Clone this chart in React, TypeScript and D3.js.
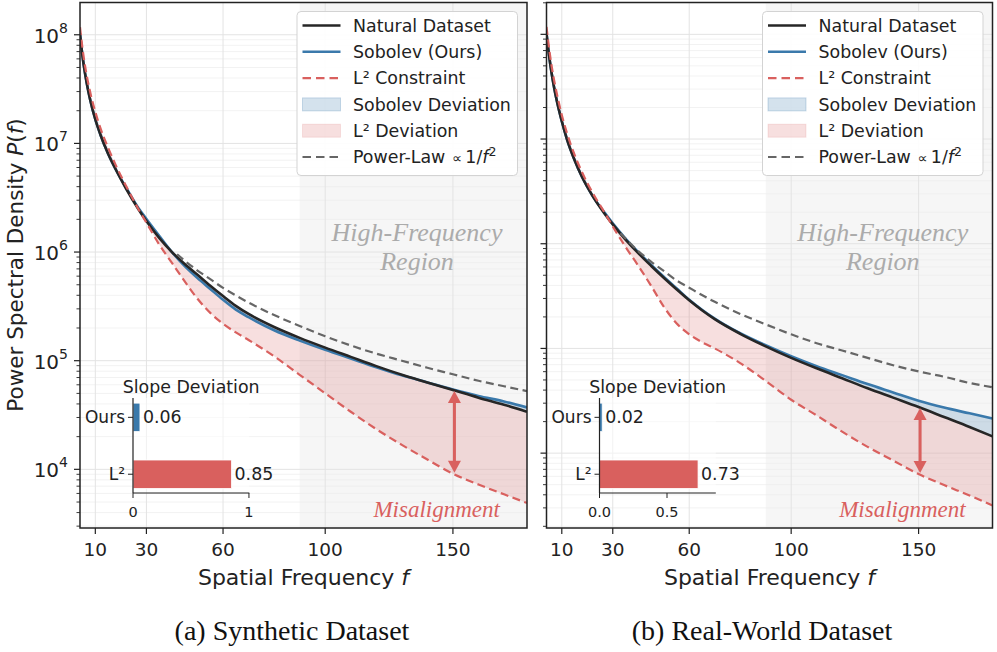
import React from "react";
import * as d3 from "d3";

// ---------------- data (log10 of P(f)) ----------------
const freqs = [4, 5, 6, 7, 8, 10, 12, 15, 18, 22, 27, 30, 35, 40, 45, 50, 55, 60, 65, 70, 80, 90, 100, 110, 120, 130, 140, 150, 160, 170, 179];

const synNatural = [8.01, 7.8, 7.64, 7.51, 7.4, 7.22, 7.08, 6.905, 6.76, 6.585, 6.39, 6.285, 6.13, 6.0, 5.89, 5.79, 5.69, 5.595, 5.505, 5.43, 5.31, 5.21, 5.12, 5.035, 4.95, 4.87, 4.8, 4.73, 4.66, 4.595, 4.53];
const synSobolev = [8.01, 7.8, 7.64, 7.51, 7.4, 7.22, 7.08, 6.905, 6.76, 6.595, 6.4, 6.305, 6.15, 6.0, 5.87, 5.76, 5.66, 5.56, 5.47, 5.4, 5.28, 5.185, 5.1, 5.02, 4.94, 4.865, 4.8, 4.735, 4.675, 4.625, 4.57];
const synL2 = [8.07, 7.87, 7.71, 7.58, 7.47, 7.29, 7.14, 6.96, 6.8, 6.61, 6.39, 6.27, 6.07, 5.9, 5.73, 5.57, 5.44, 5.34, 5.26, 5.19, 5.04, 4.87, 4.7, 4.53, 4.37, 4.225, 4.09, 3.96, 3.86, 3.77, 3.69];
const synPowerFreqs = [42, 45, 50, 55, 60, 65, 70, 80, 90, 100, 110, 120, 130, 140, 150, 160, 170, 179];
const synPowerLaw = [5.98, 5.92, 5.83, 5.75, 5.67, 5.6, 5.535, 5.42, 5.32, 5.225, 5.14, 5.065, 5.0, 4.935, 4.875, 4.815, 4.765, 4.72];

const realNatural = [8.01, 7.8, 7.63, 7.49, 7.37, 7.17, 7.0, 6.8, 6.635, 6.46, 6.28, 6.185, 6.04, 5.91, 5.79, 5.675, 5.565, 5.46, 5.365, 5.28, 5.14, 5.02, 4.91, 4.81, 4.715, 4.62, 4.53, 4.44, 4.345, 4.25, 4.16];
const realSobolev = [8.01, 7.8, 7.63, 7.49, 7.37, 7.17, 7.0, 6.8, 6.635, 6.46, 6.29, 6.195, 6.05, 5.92, 5.8, 5.685, 5.575, 5.465, 5.37, 5.285, 5.145, 5.03, 4.925, 4.83, 4.745, 4.66, 4.58, 4.5, 4.435, 4.38, 4.33];
const realL2 = [8.07, 7.87, 7.7, 7.56, 7.44, 7.23, 7.06, 6.85, 6.68, 6.49, 6.29, 6.165, 5.97, 5.79, 5.6, 5.4, 5.24, 5.135, 5.06, 5.0, 4.86, 4.69, 4.51, 4.36, 4.205, 4.06, 3.93, 3.8, 3.695, 3.595, 3.5];
const realPowerFreqs = [33, 35, 40, 45, 50, 55, 60, 65, 70, 80, 90, 100, 110, 120, 130, 140, 150, 160, 170, 179];
const realPowerLaw = [6.1, 6.05, 5.93, 5.83, 5.74, 5.65, 5.58, 5.51, 5.445, 5.33, 5.23, 5.135, 5.05, 4.98, 4.91, 4.84, 4.78, 4.73, 4.67, 4.63];

const slopeCategories = ["Ours", "L²"];
const synSlope = [0.06, 0.85];
const realSlope = [0.02, 0.73];
const synInsetTicks = [0, 1];
const realInsetTicks = [0, 0.5];

const xTicks = [10, 30, 60, 100, 150];
const yDecades = [4, 5, 6, 7, 8];
const highFreqStart = 90;
const arrowFreq = 150;

const legendLabels = ["Natural Dataset", "Sobolev (Ours)", "L² Constraint", "Sobolev Deviation", "L² Deviation", "Power-Law"];
const captions = ["(a) Synthetic Dataset", "(b) Real-World Dataset"];

// ---------------- styles ----------------
const C_NAT = "#262626";
const C_SOB = "#3a79ab";
const C_L2 = "#d9605e";
const C_PL = "#666666";
const SANS = "DejaVu Sans, sans-serif";
const SERIF = "Liberation Serif, Times New Roman, serif";
const TOP = 2.5;
const BOTTOM = 528;

const panels = [
  {
    id: "a", x0: 80, x1: 527, yLo: 3.46, yHi: 8.297, showYLabels: true,
    natural: synNatural, sobolev: synSobolev, l2: synL2, plF: synPowerFreqs, pl: synPowerLaw,
    slope: synSlope, insetTicks: synInsetTicks, insetFmt: "d", caption: captions[0], captionX: 292,
  },
  {
    id: "b", x0: 546.5, x1: 992.5, yLo: 3.285, yHi: 8.304, showYLabels: false,
    natural: realNatural, sobolev: realSobolev, l2: realL2, plF: realPowerFreqs, pl: realPowerLaw,
    slope: realSlope, insetTicks: realInsetTicks, insetFmt: ".1f", caption: captions[1], captionX: 762,
  },
];

function Legend({ x, y }: { x: number; y: number }) {
  const w = 220.5, h = 164, step = 26.3, y0 = y + 14;
  const hx0 = x + 5.5, hx1 = x + 43.5, tx = x + 56;
  const fs = 17.4;
  return (
    <g>
      <rect x={x} y={y} width={w} height={h} rx={4} fill="#fff" fillOpacity={0.92} stroke="#d3d3d3" strokeWidth={1} />
      {legendLabels.map((lab, i) => {
        const cy = y0 + i * step;
        let handle: any = null;
        if (i === 0) handle = <line x1={hx0} x2={hx1} y1={cy} y2={cy} stroke={C_NAT} strokeWidth={2.6} />;
        if (i === 1) handle = <line x1={hx0} x2={hx1} y1={cy} y2={cy} stroke={C_SOB} strokeWidth={2.6} />;
        if (i === 2) handle = <line x1={hx0} x2={hx1} y1={cy} y2={cy} stroke={C_L2} strokeWidth={2.2} strokeDasharray="8.5,5" />;
        if (i === 3) handle = <rect x={hx0} y={cy - 6.5} width={hx1 - hx0} height={13} fill={C_SOB} fillOpacity={0.22} stroke={C_SOB} strokeOpacity={0.25} />;
        if (i === 4) handle = <rect x={hx0} y={cy - 6.5} width={hx1 - hx0} height={13} fill={C_L2} fillOpacity={0.2} stroke={C_L2} strokeOpacity={0.15} />;
        if (i === 5) handle = <line x1={hx0} x2={hx1} y1={cy} y2={cy} stroke={C_PL} strokeWidth={2.2} strokeDasharray="8.5,5" />;
        return (
          <g key={i}>
            {handle}
            {i < 5 ? (
              <text x={tx} y={cy + 6.2} fontSize={fs} fontFamily={SANS} fill="#222">{lab}</text>
            ) : (
              <text x={tx} y={cy + 6.2} fontSize={fs} fontFamily={SANS} fill="#222">
                {lab}
                <tspan dx={7} fontSize={14}>∝</tspan>
                <tspan dx={3}>1/</tspan>
                <tspan fontStyle="italic">f</tspan>
                <tspan fontSize={12.5} dy={-7}>2</tspan>
              </text>
            )}
          </g>
        );
      })}
    </g>
  );
}

function Panel({ cfg }: { cfg: any }) {
  const x = d3.scaleLinear().domain([4, 179]).range([cfg.x0, cfg.x1]);
  const y = d3.scaleLog().domain([10 ** cfg.yLo, 10 ** cfg.yHi]).range([BOTTOM, TOP]);
  const P = (v: number) => y(10 ** v);
  const line = d3.line<[number, number]>().curve(d3.curveMonotoneX);
  const pts = (fs: number[], vs: number[]) => fs.map((f, i) => [x(f), P(vs[i])] as [number, number]);
  const between = (a: number[], b: number[]) =>
    d3.area<number>()
      .x((f) => x(f))
      .y0((_, i) => P(a[i]))
      .y1((_, i) => P(b[i]))
      .curve(d3.curveMonotoneX)(freqs) as string;

  const clipId = "clip-" + cfg.id;
  const minor: number[] = [];
  for (let k = 3; k <= 8; k++) for (let m = 2; m <= 9; m++) {
    const v = Math.log10(m) + k;
    if (v > cfg.yLo && v < cfg.yHi) minor.push(v);
  }
  const cx = (cfg.x0 + cfg.x1) / 2;
  const W = cfg.x1 - cfg.x0;

  // arrow
  const ai = freqs.indexOf(arrowFreq);
  const ax = x(arrowFreq) + 1.5;
  const aTop = P(cfg.natural[ai]) + 1;
  const aBot = P(cfg.l2[ai]) - 1;
  const hl = 12, hw = 6.5;

  // inset
  const ix0 = cfg.x0 + 53, iw = 116.3, iy0 = 398, iy1 = 493;
  const ixs = d3.scaleLinear().domain([0, d3.max(cfg.slope as number[])! * 1.18]).range([ix0, ix0 + iw]);
  const iys = d3.scaleLinear().domain([-0.34, 1.33]).range([iy0, iy1]);
  const barH = iys(0.25) - iys(-0.25);
  const fmt = d3.format(cfg.insetFmt);
  const hfx = x(highFreqStart);
  const textX = cfg.x0 + 0.754 * W;
  const misX = cfg.x0 + 0.798 * W;

  return (
    <g>
      <defs>
        <clipPath id={clipId}>
          <rect x={cfg.x0} y={TOP} width={W} height={BOTTOM - TOP} />
        </clipPath>
      </defs>
      <rect x={hfx} y={TOP} width={cfg.x1 - hfx} height={BOTTOM - TOP} fill="#000" fillOpacity={0.037} />
      <g clipPath={`url(#${clipId})`}>
        {minor.map((v) => (
          <line key={"mg" + v} x1={cfg.x0} x2={cfg.x1} y1={P(v)} y2={P(v)} stroke="#ececec" strokeWidth={0.7} />
        ))}
        {yDecades.map((d) => (
          <line key={"Mg" + d} x1={cfg.x0} x2={cfg.x1} y1={P(d)} y2={P(d)} stroke="#e3e3e3" strokeWidth={1} />
        ))}
        {xTicks.map((t) => (
          <line key={"vg" + t} x1={x(t)} x2={x(t)} y1={TOP} y2={BOTTOM} stroke="#e3e3e3" strokeWidth={1} />
        ))}
        <path d={between(cfg.natural, cfg.l2)} fill={C_L2} fillOpacity={0.2} />
        <path d={between(cfg.natural, cfg.sobolev)} fill={C_SOB} fillOpacity={0.22} />
        <path d={line(pts(freqs, cfg.sobolev))!} fill="none" stroke={C_SOB} strokeWidth={2.6} />
        <path d={line(pts(freqs, cfg.natural))!} fill="none" stroke={C_NAT} strokeWidth={2.6} />
        <path d={line(pts(freqs, cfg.l2))!} fill="none" stroke={C_L2} strokeWidth={2.2} strokeDasharray="8,4.5" />
        <path d={line(pts(cfg.plF, cfg.pl))!} fill="none" stroke={C_PL} strokeWidth={2.2} strokeDasharray="8,4.5" />
      </g>

      {/* arrow */}
      <line x1={ax} x2={ax} y1={aTop + hl - 1} y2={aBot - hl + 1} stroke={C_L2} strokeWidth={3} />
      <path d={`M${ax},${aTop} L${ax - hw},${aTop + hl} L${ax + hw},${aTop + hl} Z`} fill={C_L2} />
      <path d={`M${ax},${aBot} L${ax - hw},${aBot - hl} L${ax + hw},${aBot - hl} Z`} fill={C_L2} />

      {/* annotations */}
      <text x={textX} y={241} textAnchor="middle" fontFamily={SERIF} fontStyle="italic" fontSize={26} fill="#ababab">High-Frequency</text>
      <text x={textX} y={270} textAnchor="middle" fontFamily={SERIF} fontStyle="italic" fontSize={26} fill="#ababab">Region</text>
      <text x={misX} y={517} textAnchor="middle" fontFamily={SERIF} fontStyle="italic" fontSize={23} fill={C_L2}>Misalignment</text>

      {/* spines */}
      <rect x={cfg.x0} y={TOP} width={W} height={BOTTOM - TOP} fill="none" stroke="#222" strokeWidth={1.5} />

      {/* y ticks */}
      {minor.map((v) => (
        <line key={"mt" + v} x1={cfg.x0 - 3.5} x2={cfg.x0} y1={P(v)} y2={P(v)} stroke="#222" strokeWidth={0.9} />
      ))}
      {yDecades.map((d) => (
        <g key={"yt" + d}>
          <line x1={cfg.x0 - 6} x2={cfg.x0} y1={P(d)} y2={P(d)} stroke="#222" strokeWidth={1.2} />
          {cfg.showYLabels && (
            <text x={cfg.x0 - 12} y={P(d) + 8} textAnchor="end" fontFamily={SANS} fontSize={20} fill="#222">
              10<tspan fontSize={14} dy={-10}>{d}</tspan>
            </text>
          )}
        </g>
      ))}
      {/* x ticks */}
      {xTicks.map((t) => (
        <g key={"xt" + t}>
          <line x1={x(t)} x2={x(t)} y1={BOTTOM} y2={BOTTOM + 6} stroke="#222" strokeWidth={1.2} />
          <text x={x(t)} y={556} textAnchor="middle" fontFamily={SANS} fontSize={18.5} fill="#222">{t}</text>
        </g>
      ))}
      <text x={cx} y={585} textAnchor="middle" fontFamily={SANS} fontSize={22} fill="#222">
        Spatial Frequency <tspan fontStyle="italic">f</tspan>
      </text>

      <Legend x={cfg.x1 - 230} y={11.5} />

      {/* inset bar chart */}
      <g>
        <rect x={ix0} y={iy0} width={iw} height={iy1 - iy0} fill="#fff" fillOpacity={0.5} />
        {cfg.slope.map((v: number, i: number) => (
          <g key={"bar" + i}>
            <rect x={ixs(0)} y={iys(i) - barH / 2} width={ixs(v) - ixs(0)} height={barH} fill={i === 0 ? C_SOB : C_L2} stroke="#fff" strokeWidth={0.8} />
            <text x={ixs(v) + 3} y={iys(i) + 6} fontFamily={SANS} fontSize={17.4} fill="#222">{d3.format(".2f")(v)}</text>
            <line x1={ix0 - 5} x2={ix0} y1={iys(i)} y2={iys(i)} stroke="#222" strokeWidth={1} />
            <text x={ix0 - 8} y={iys(i) + 6} textAnchor="end" fontFamily={SANS} fontSize={17} fill="#222">{slopeCategories[i]}</text>
          </g>
        ))}
        <line x1={ix0} x2={ix0} y1={iy0} y2={iy1} stroke="#222" strokeWidth={1.2} />
        <line x1={ix0} x2={ix0 + iw} y1={iy1} y2={iy1} stroke="#222" strokeWidth={1.2} />
        {cfg.insetTicks.map((t: number) => (
          <g key={"it" + t}>
            <line x1={ixs(t)} x2={ixs(t)} y1={iy1} y2={iy1 + 5} stroke="#222" strokeWidth={1} />
            <text x={ixs(t)} y={517} textAnchor="middle" fontFamily={SANS} fontSize={14.5} fill="#222">{fmt(t)}</text>
          </g>
        ))}
        <text x={ix0 + iw / 2} y={393} textAnchor="middle" fontFamily={SANS} fontSize={17.4} fill="#222">Slope Deviation</text>
      </g>

      <text x={cfg.captionX} y={640} textAnchor="middle" fontFamily={SERIF} fontSize={28} fill="#111">{cfg.caption}</text>
    </g>
  );
}

export default function App() {
  return (
    <svg width={997} height={652} viewBox="0 0 997 652" style={{ position: "absolute", left: 0, top: 0, background: "#fff" }}>
      <rect x={0} y={0} width={997} height={652} fill="#fff" />
      {panels.map((p) => (
        <Panel key={p.id} cfg={p} />
      ))}
      <text transform="translate(23,265) rotate(-90)" textAnchor="middle" fontFamily={SANS} fontSize={21.5} fill="#222">
        Power Spectral Density <tspan fontStyle="italic">P</tspan>(<tspan fontStyle="italic">f</tspan>)
      </text>
    </svg>
  );
}
